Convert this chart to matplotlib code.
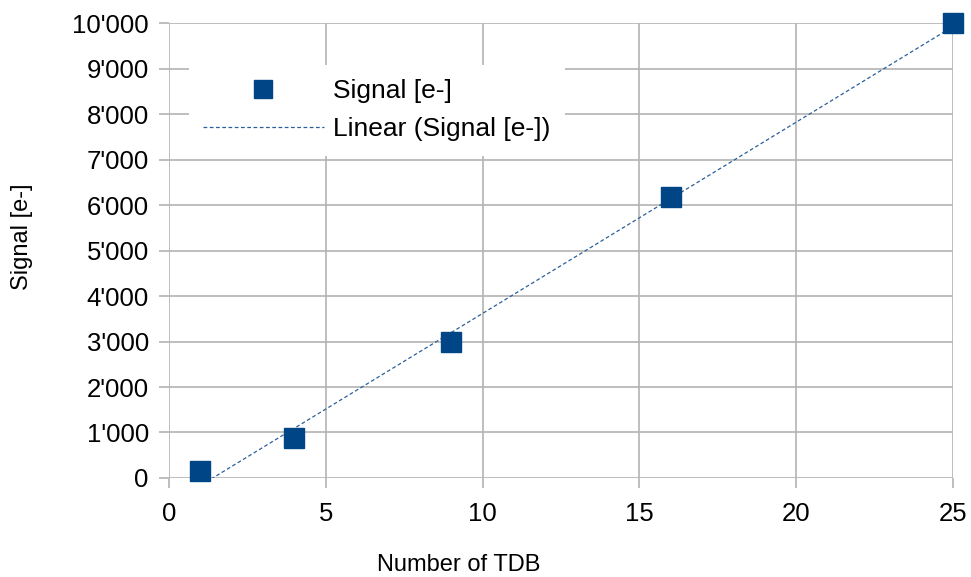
import numpy as np
import matplotlib
matplotlib.use("Agg")
import matplotlib.pyplot as plt
from matplotlib.ticker import FuncFormatter

plt.rcParams["font.family"] = ["Liberation Sans", "DejaVu Sans"]

# data
n_tdb = [1, 4, 9, 16, 25]
signal = [150, 870, 3000, 6170, 10000]

x_ticks = [0, 5, 10, 15, 20, 25]
y_ticks = list(range(0, 10001, 1000))

blue = "#004586"
trend_blue = "#2a6099"
grid_gray = "#b3b3b3"

fig = plt.figure(figsize=(9.71, 5.77), dpi=100)
ax = fig.add_axes([0.174, 0.1716, 0.8075, 0.7884])

# linear trend line (least squares, like the spreadsheet one)
slope, intercept = np.polyfit(n_tdb, signal, 1)
xs = np.linspace(min(n_tdb), max(n_tdb), 200)
ax.plot(xs, slope * xs + intercept, linestyle=(0, (3, 2)), linewidth=0.9,
        color=trend_blue, label="Linear (Signal [e-])", zorder=3)

ax.plot(n_tdb, signal, linestyle="none", marker="s", markersize=14,
        color=blue, label="Signal [e-]", zorder=4, clip_on=False)

ax.set_xlim(0, 25)
ax.set_ylim(0, 10000)
ax.set_xticks(x_ticks)
ax.set_yticks(y_ticks)
ax.yaxis.set_major_formatter(FuncFormatter(lambda v, p: f"{int(v):,}".replace(",", "'")))

ax.grid(True, color=grid_gray, linewidth=1.2)
ax.set_axisbelow(True)
for s in ax.spines.values():
    s.set_visible(False)
ax.tick_params(axis="both", colors=grid_gray, labelcolor="black",
               labelsize=18.5, length=7, width=1.2)
ax.tick_params(axis="x", pad=10)
ax.tick_params(axis="y", pad=7.5)

ax.set_xlabel("Number of TDB", fontsize=17, va="center")
ax.xaxis.set_label_coords(0.37, -0.191)
ax.set_ylabel("Signal [e-]", fontsize=17, va="center")
ax.yaxis.set_label_coords(-0.1875, 0.531)

handles, labels = ax.get_legend_handles_labels()
leg = ax.legend(handles[::-1], labels[::-1], loc="upper left",
                bbox_to_anchor=(0.0255, 0.908), borderaxespad=0,
                fontsize=19, handlelength=4.55, handletextpad=0.36,
                markerscale=0.88, numpoints=1, frameon=True,
                fancybox=False, framealpha=1, borderpad=0.55,
                labelspacing=0.52)
leg.get_frame().set_edgecolor("none")
leg.get_frame().set_facecolor("white")

fig.savefig("out.png", dpi=100)
